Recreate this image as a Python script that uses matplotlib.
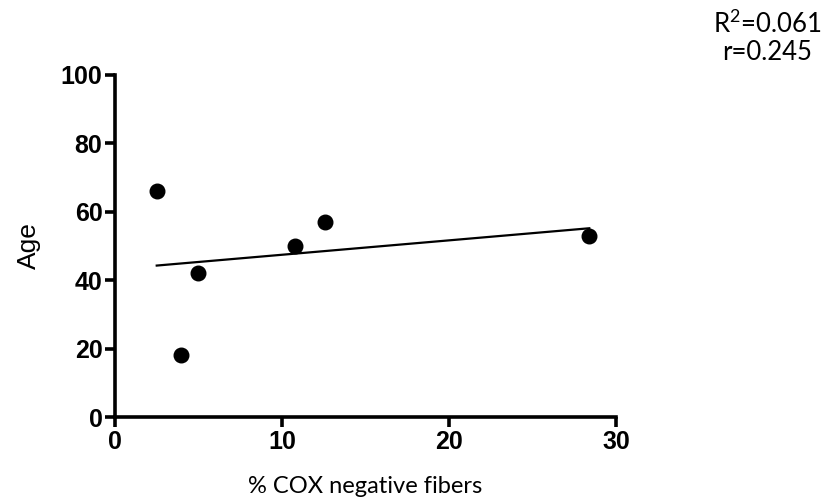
import numpy as np
from matplotlib import pyplot as plt


# Data
cox_negative = [2.5, 3.95, 5.0, 10.8, 12.6, 28.4]
age = [66, 18, 42, 50, 57, 53]

x_ticks = [0, 10, 20, 30]
y_ticks = [0, 20, 40, 60, 80, 100]

r_squared_text = r"R$^2$=0.061"
r_text = "r=0.245"

plt.rcParams["mathtext.fontset"] = "custom"
plt.rcParams["mathtext.rm"] = "Lato"


fig = plt.figure(figsize=(8.23, 5.04), dpi=100)
ax = fig.add_axes([0.1397, 0.1726, 0.6088, 0.6786])

# Points
ax.scatter(cox_negative, age, s=110, color="black", zorder=3)

# Linear regression over the data range
slope, intercept = np.polyfit(cox_negative, age, 1)
x_fit = np.array([min(cox_negative), max(cox_negative)])
ax.plot(x_fit, slope * x_fit + intercept, color="black", linewidth=1.6)

ax.set_xlim(0, 30)
ax.set_ylim(0, 100)
ax.set_xticks(x_ticks)
ax.set_yticks(y_ticks)

for side in ["top", "right"]:
    ax.spines[side].set_visible(False)
for side in ["left", "bottom"]:
    ax.spines[side].set_linewidth(2.6)

ax.tick_params(direction="out", length=7, width=2.6, pad=2)
for label in ax.get_xticklabels() + ax.get_yticklabels():
    label.set_fontfamily("Liberation Sans")
    label.set_fontweight("bold")
    label.set_fontsize(18)

ax.set_xlabel("% COX negative fibers", fontfamily="Lato", fontsize=17, labelpad=16)
ax.set_ylabel("Age", fontfamily="Liberation Sans", fontsize=19, labelpad=14)

# Correlation summary
fig.text(0.932, 0.952, r_squared_text, ha="center", va="center", fontfamily="Lato", fontsize=18.5)
fig.text(0.932, 0.895, r_text, ha="center", va="center", fontfamily="Lato", fontsize=18.5)

plt.savefig("out.png", dpi=100)
